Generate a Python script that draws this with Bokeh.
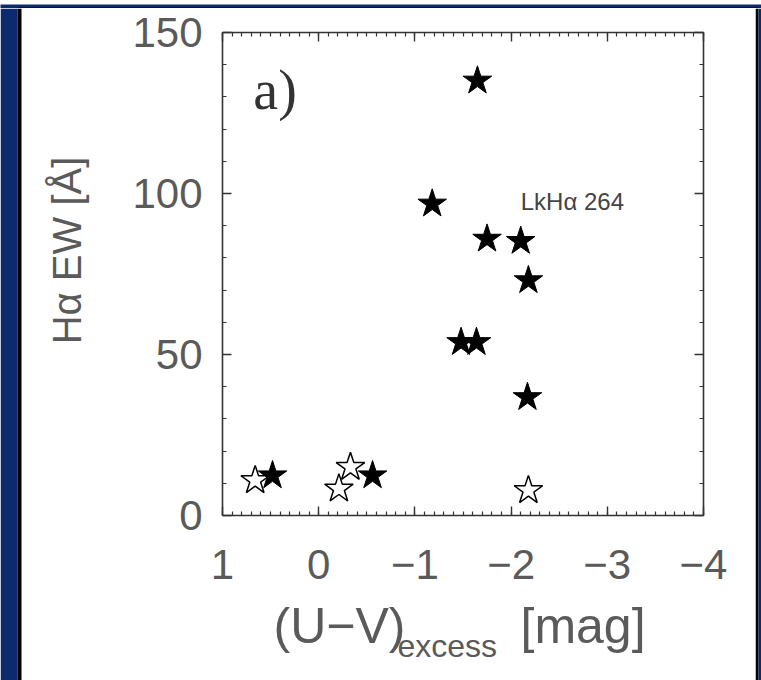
import numpy as np
from bokeh.plotting import figure
from bokeh.layouts import row, column
from bokeh.models import (Range1d, LinearAxis, FixedTicker, Label, BoxAnnotation,
                          CustomLabelingPolicy)
from bokeh.embed import file_html
from bokeh.resources import INLINE

# ---- data ----
filled_uv = [-1.65, -1.18, -1.75, -2.10, -2.18, -1.48, -1.64, -2.17, 0.48, -0.56]
filled_ew = [135.0, 96.8, 85.9, 85.2, 73.0, 53.8, 53.8, 36.7, 12.4, 12.4]
open_uv = [0.66, -0.33, -0.21, -2.18]
open_ew = [10.9, 15.0, 8.3, 7.8]

x_ticks = [1, 0, -1, -2, -3, -4]
x_tick_labels = ["1", "0", "\u22121", "\u22122", "\u22123", "\u22124"]
y_ticks = [0, 50, 100, 150]
y_tick_labels = ["0", "50", "100", "150"]
x_minor = [round(v / 10, 1) for v in range(-40, 11)]
y_minor = list(range(0, 151, 10))

FONT = "Liberation Sans"
AX = "#333333"
TXT = "#5a5a5a"
BLUE = "#0b2b6e"


def blank(w, h, **kw):
    f = figure(width=w, height=h, output_backend="svg", toolbar_location=None,
               x_axis_location=None, y_axis_location=None, **kw)
    f.xgrid.visible = False
    f.ygrid.visible = False
    f.outline_line_color = None
    f.background_fill_color = "white"
    f.border_fill_color = "white"
    return f


def box(f, l, r, t, b, color):
    # t, b measured from the top of the helper figure
    h = f.height
    f.add_layout(BoxAnnotation(left=l, right=r, top=h - t, bottom=h - b,
                               fill_color=color, fill_alpha=1, line_color=None,
                               level="underlay"))


# ---- main plot ----
PH = 587
p = figure(width=647, height=PH, output_backend="svg", toolbar_location=None,
           x_range=Range1d(1, -4), y_range=Range1d(0, 150),
           x_axis_location=None, y_axis_location=None,
           min_border_left=114, min_border_right=52,
           min_border_top=24, min_border_bottom=80)
p.border_fill_color = "white"
p.background_fill_color = "white"
p.outline_line_color = None
p.xgrid.visible = False
p.ygrid.visible = False

hide_labels = "for (const i of indices) { indices.unset(i) }; return indices"


def style_axis(ax, show_labels):
    ax.axis_line_color = AX
    ax.axis_line_width = 1.6
    ax.major_tick_line_color = AX
    ax.minor_tick_line_color = AX
    ax.major_tick_line_width = 1.4
    ax.minor_tick_line_width = 1.2
    ax.major_tick_in = 9
    ax.major_tick_out = 0
    ax.minor_tick_in = 4
    ax.minor_tick_out = 0
    ax.major_label_text_font = FONT
    ax.major_label_text_color = TXT
    if show_labels:
        ax.major_label_text_font_size = "42px"
    else:
        ax.major_label_text_font_size = "10px"
        ax.major_label_policy = CustomLabelingPolicy(code=hide_labels)


xb = LinearAxis(ticker=FixedTicker(ticks=x_ticks, minor_ticks=x_minor))
style_axis(xb, True)
xb.major_label_standoff = 34
xb.major_label_overrides = {float(t): l for t, l in zip(x_ticks, x_tick_labels)}
p.add_layout(xb, "below")

xt = LinearAxis(ticker=FixedTicker(ticks=x_ticks, minor_ticks=x_minor))
style_axis(xt, False)
p.add_layout(xt, "above")

yl = LinearAxis(ticker=FixedTicker(ticks=y_ticks, minor_ticks=y_minor))
style_axis(yl, True)
yl.major_label_standoff = 20
yl.major_label_orientation = "horizontal"
yl.major_label_overrides = {float(t): l for t, l in zip(y_ticks, y_tick_labels)}
p.add_layout(yl, "left")

yr = LinearAxis(ticker=FixedTicker(ticks=y_ticks, minor_ticks=y_minor))
style_axis(yr, False)
p.add_layout(yr, "right")

p.scatter(open_uv, open_ew, marker="star", size=30, fill_color="white",
          line_color="black", line_width=1.5)
p.scatter(filled_uv, filled_ew, marker="star", size=30, fill_color="black",
          line_color="black", line_width=1)

p.add_layout(Label(x=0.68, y=132.0, text="a)", text_font="Liberation Serif",
                   text_font_size="56px", text_color="#333333",
                   text_baseline="alphabetic", text_align="left"))
p.add_layout(Label(x=-2.10, y=97.6, text="LkH\u03b1 264", text_font=FONT,
                   text_font_size="24px", text_color="#444444",
                   text_baseline="alphabetic", text_align="left"))

# ---- frame pieces around the plot ----
top = blank(761, 8, x_range=Range1d(0, 761), y_range=Range1d(0, 8), min_border=0)
top.background_fill_color = BLUE
top.border_fill_color = BLUE
box(top, 17, 758, 3, 8, "black")

left = blank(108, 672, x_range=Range1d(0, 108), y_range=Range1d(0, 672), min_border=0)
box(left, 0, 17, 0, 672, BLUE)
box(left, 17, 21, 0, 672, "black")
left.add_layout(Label(x=66, y=672 - 242, text="H\u03b1 EW [\u00c5]", text_font=FONT,
                      text_font_size="40px", text_color=TXT, angle=np.pi / 2,
                      text_baseline="middle", text_align="center"))

right = blank(6, 672, x_range=Range1d(0, 6), y_range=Range1d(0, 672), min_border=0)
box(right, 0, 3, 0, 672, "black")
box(right, 3, 6, 0, 672, BLUE)

# x-axis title strip: same side borders as the main plot, so its frame
# lines up with the plot frame (x in pixels from the frame's left edge)
XH = 672 - PH
xtitle = blank(647, XH, x_range=Range1d(0, 481), y_range=Range1d(0, XH),
               min_border_left=114, min_border_right=52,
               min_border_top=0, min_border_bottom=0)
xtitle.add_layout(Label(x=51, y=XH - 30, text="(U\u2212V)", text_font=FONT,
                        text_font_size="50px", text_color=TXT,
                        text_baseline="alphabetic", text_align="left"))
xtitle.add_layout(Label(x=175, y=XH - 50, text="excess", text_font=FONT,
                        text_font_size="32px", text_color=TXT,
                        text_baseline="alphabetic", text_align="left"))
xtitle.add_layout(Label(x=298, y=XH - 30, text="[mag]", text_font=FONT,
                        text_font_size="50px", text_color=TXT,
                        text_baseline="alphabetic", text_align="left"))

layout = column(top, row(left, column(p, xtitle), right))

open("out.html", "w").write(file_html(layout, INLINE))
